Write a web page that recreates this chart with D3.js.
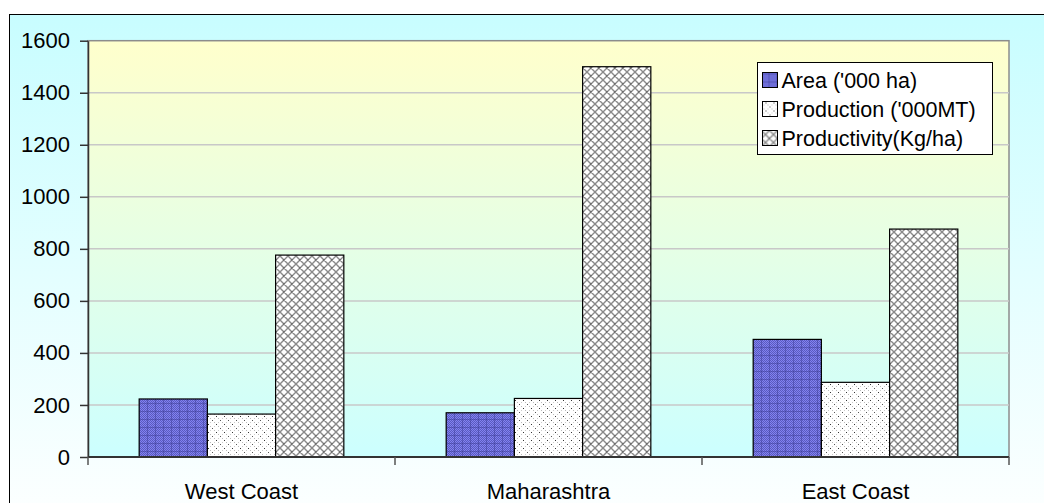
<!DOCTYPE html>
<html>
<head>
<meta charset="utf-8">
<script src="https://cdn.jsdelivr.net/npm/d3@7"></script>
<style>
  html, body { margin: 0; padding: 0; background: #fff; }
  svg { display: block; font-family: "Liberation Sans", Arial, sans-serif; }
</style>
</head>
<body>
<svg id="chart" width="1044" height="503"></svg>
<script>
// Crop statistics by region
const regions = ["West Coast", "Maharashtra", "East Coast"];
const seriesNames = ["Area ('000 ha)", "Production ('000MT)", "Productivity(Kg/ha)"];
const area = [223, 170, 452];
const production = [165, 225, 287];
const productivity = [776, 1500, 876];
const yTicks = [0, 200, 400, 600, 800, 1000, 1200, 1400, 1600];

const seriesValues = [area, production, productivity];
const patternIds = ["pat-area", "pat-prod", "pat-yield"];

const W = 1044, H = 503;
const margin = { left: 88, right: 35, top: 40.7, bottom: 46 };
const svg = d3.select("#chart");
const defs = svg.append("defs");

// Backgrounds
const outerGrad = defs.append("linearGradient").attr("id", "outerGrad")
  .attr("x1", 0).attr("y1", 0).attr("x2", 0).attr("y2", 1);
outerGrad.append("stop").attr("offset", "0%").attr("stop-color", "#c8fdff");
outerGrad.append("stop").attr("offset", "100%").attr("stop-color", "#ffffff");

const plotGrad = defs.append("linearGradient").attr("id", "plotGrad")
  .attr("x1", 0).attr("y1", 0).attr("x2", 0).attr("y2", 1);
plotGrad.append("stop").attr("offset", "0%").attr("stop-color", "#ffffcc");
plotGrad.append("stop").attr("offset", "100%").attr("stop-color", "#ccffff");

// Area: violet-blue checker with darker plaid lines
const pA = defs.append("pattern").attr("id", "pat-area")
  .attr("patternUnits", "userSpaceOnUse").attr("width", 8).attr("height", 8);
pA.append("rect").attr("width", 8).attr("height", 8).attr("fill", "#8282f0");
for (let i = 0; i < 8; i++) for (let j = 0; j < 8; j++) {
  if ((i + j) % 2 === 0) pA.append("rect").attr("x", i).attr("y", j).attr("width", 1).attr("height", 1).attr("fill", "#5a5ac0");
}
pA.append("rect").attr("x", 3).attr("y", 0).attr("width", 1).attr("height", 8).attr("fill", "#3a3a90").attr("opacity", 0.45);
pA.append("rect").attr("x", 0).attr("y", 3).attr("width", 8).attr("height", 1).attr("fill", "#3a3a90").attr("opacity", 0.45);

// Production: sparse dots on white
const pP = defs.append("pattern").attr("id", "pat-prod")
  .attr("patternUnits", "userSpaceOnUse").attr("width", 8).attr("height", 8);
pP.append("rect").attr("width", 8).attr("height", 8).attr("fill", "#ffffff");
[[0, 0, "#333"], [4, 4, "#555"], [2, 2, "#bbb"], [6, 6, "#bbb"], [6, 2, "#ccc"], [2, 6, "#ccc"]]
  .forEach(([x, y, c]) => pP.append("rect").attr("x", x).attr("y", y).attr("width", 1).attr("height", 1).attr("fill", c));

// Productivity: diamond crosshatch
const pY = defs.append("pattern").attr("id", "pat-yield")
  .attr("patternUnits", "userSpaceOnUse").attr("width", 8).attr("height", 8);
pY.append("rect").attr("width", 8).attr("height", 8).attr("fill", "#ffffff");
pY.append("path").attr("d", "M0,0 L8,8 M8,0 L0,8 M-1,7 L1,9 M7,-1 L9,1 M-1,1 L1,-1 M7,9 L9,7")
  .attr("stroke", "#8a8a8a").attr("stroke-width", 1.4).attr("fill", "none");
pY.append("rect").attr("x", 3.5).attr("y", 3.5).attr("width", 1).attr("height", 1).attr("fill", "#222");

// Chart area
svg.append("rect").attr("x", 9.5).attr("y", 14.5).attr("width", W + 20).attr("height", H + 20)
  .attr("fill", "url(#outerGrad)").attr("stroke", "#000").attr("stroke-width", 1);

const x0 = margin.left, x1 = W - margin.right;
const y0 = H - margin.bottom, y1 = margin.top;

const x = d3.scaleBand().domain(regions).range([x0, x1]).paddingInner(0).paddingOuter(0);
const y = d3.scaleLinear().domain([0, 1600]).range([y0, y1]);

// Plot area
svg.append("rect").attr("x", x0).attr("y", y1).attr("width", x1 - x0).attr("height", y0 - y1)
  .attr("fill", "url(#plotGrad)").attr("stroke", "#8c8c8c").attr("stroke-width", 1.5);

// Gridlines
svg.append("g").selectAll("line").data(yTicks.filter(d => d > 0 && d < 1600)).join("line")
  .attr("x1", x0).attr("x2", x1)
  .attr("y1", d => y(d)).attr("y2", d => y(d))
  .attr("stroke", "#c8c8c8").attr("stroke-width", 1.5);

// Bars
const barW = x.bandwidth() / 4.5;
const groupOffset = (x.bandwidth() - 3 * barW) / 2;
const xs = d3.scaleBand().domain([0, 1, 2]).range([groupOffset, groupOffset + 3 * barW]);

const groups = svg.append("g").selectAll("g").data(regions).join("g")
  .attr("transform", d => `translate(${x(d)},0)`);
groups.selectAll("rect")
  .data((r, ri) => seriesValues.map((vals, si) => ({ si, v: vals[ri] })))
  .join("rect")
  .attr("x", d => xs(d.si))
  .attr("width", xs.bandwidth())
  .attr("y", d => y(d.v))
  .attr("height", d => y(0) - y(d.v))
  .attr("fill", d => `url(#${patternIds[d.si]})`)
  .attr("stroke", "#000").attr("stroke-width", 1.2);

// Y axis
const yAxis = svg.append("g").attr("transform", `translate(${x0},0)`)
  .call(d3.axisLeft(y).tickValues(yTicks).tickFormat(d3.format("d"))
    .tickSize(8).tickPadding(10).tickSizeOuter(0));
yAxis.select(".domain").attr("stroke", "#333").attr("stroke-width", 1.5);
yAxis.selectAll(".tick line").attr("stroke", "#333").attr("stroke-width", 1.5);
yAxis.selectAll("text").attr("font-size", 22).attr("fill", "#000")
  .attr("font-family", "'Liberation Sans', Arial, sans-serif");

// X axis with boundary ticks between categories
const xAxisG = svg.append("g").attr("transform", `translate(0,${y0})`);
xAxisG.append("line").attr("x1", x0).attr("x2", x1).attr("stroke", "#333").attr("stroke-width", 2);
const bounds = regions.map(r => x(r)).concat([x1]);
xAxisG.selectAll("line.b").data(bounds).join("line").attr("class", "b")
  .attr("x1", d => d).attr("x2", d => d).attr("y1", 0).attr("y2", 8)
  .attr("stroke", "#555").attr("stroke-width", 1.5);
xAxisG.selectAll("text").data(regions).join("text")
  .attr("x", d => x(d) + x.bandwidth() / 2).attr("y", 42)
  .attr("text-anchor", "middle").attr("font-size", 22).attr("fill", "#000")
  .text(d => d);

// Legend
const lg = svg.append("g").attr("transform", "translate(757.5,62.5)");
lg.append("rect").attr("width", 235).attr("height", 92).attr("fill", "#fff").attr("stroke", "#000").attr("stroke-width", 1);
seriesNames.forEach((name, i) => {
  const yy = 17 + i * 29;
  lg.append("rect").attr("x", 5).attr("y", yy - 7).attr("width", 15).attr("height", 15)
    .attr("fill", `url(#${patternIds[i]})`).attr("stroke", "#000").attr("stroke-width", 1);
  lg.append("text").attr("x", 24).attr("y", yy + 8).attr("font-size", 21.5).attr("fill", "#000").text(name);
});
</script>
</body>
</html>
